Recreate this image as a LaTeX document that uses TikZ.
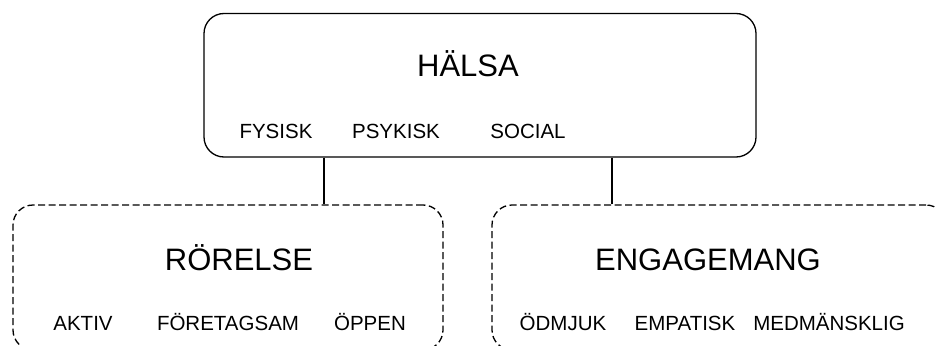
\documentclass[tikz,border=0pt]{standalone}
\usepackage{fontspec}
\setmainfont{Liberation Sans}
\begin{document}
\begin{tikzpicture}[x=1pt,y=-1pt,
  solidbox/.style={draw=black, line width=1.3pt, rounded corners=20pt, inner sep=0pt},
  dashbox/.style={draw=black, line width=1.3pt, rounded corners=20pt, inner sep=0pt, dash pattern=on 7pt off 3.5pt},
  bigtxt/.style={anchor=base, inner sep=0pt, font=\fontsize{31}{37}\selectfont},
  smalltxt/.style={anchor=base, inner sep=0pt, font=\fontsize{20.5}{24}\selectfont},
  conn/.style={draw=black, line width=1.3pt}]
\useasboundingbox (0,0) rectangle (936,345);
% boxes
\node[solidbox, minimum width=552pt, minimum height=143.5pt] (halsa) at (480,85.25) {};
\node[dashbox, minimum width=430pt, minimum height=145pt] (ror) at (228,277.5) {};
\node[dashbox, minimum width=454pt, minimum height=145pt] (eng) at (719,277.5) {};
% texts top
\node[bigtxt] (t1) at (468,77) {HÄLSA};
\node[smalltxt] (t2) at (276,138) {FYSISK};
\node[smalltxt] (t3) at (396,138) {PSYKISK};
\node[smalltxt] (t4) at (528,138) {SOCIAL};
% texts left
\node[bigtxt] (t5) at (239,270) {RÖRELSE};
\node[smalltxt] (t6) at (83,330) {AKTIV};
\node[smalltxt] (t7) at (228,330) {FÖRETAGSAM};
\node[smalltxt] (t8) at (370,330) {ÖPPEN};
% texts right
\node[bigtxt] (t9) at (708,270) {ENGAGEMANG};
\node[smalltxt] (t10) at (563,330) {ÖDMJUK};
\node[smalltxt] (t11) at (685,330) {EMPATISK};
\node[smalltxt] (t12) at (829,330) {MEDMÄNSKLIG};
% connectors
\coordinate (c1) at (324,0);
\coordinate (c2) at (612,0);
\draw[conn] (halsa.south -| c1) -- (ror.north -| c1);
\draw[conn] (halsa.south -| c2) -- (eng.north -| c2);
\end{tikzpicture}
\end{document}
